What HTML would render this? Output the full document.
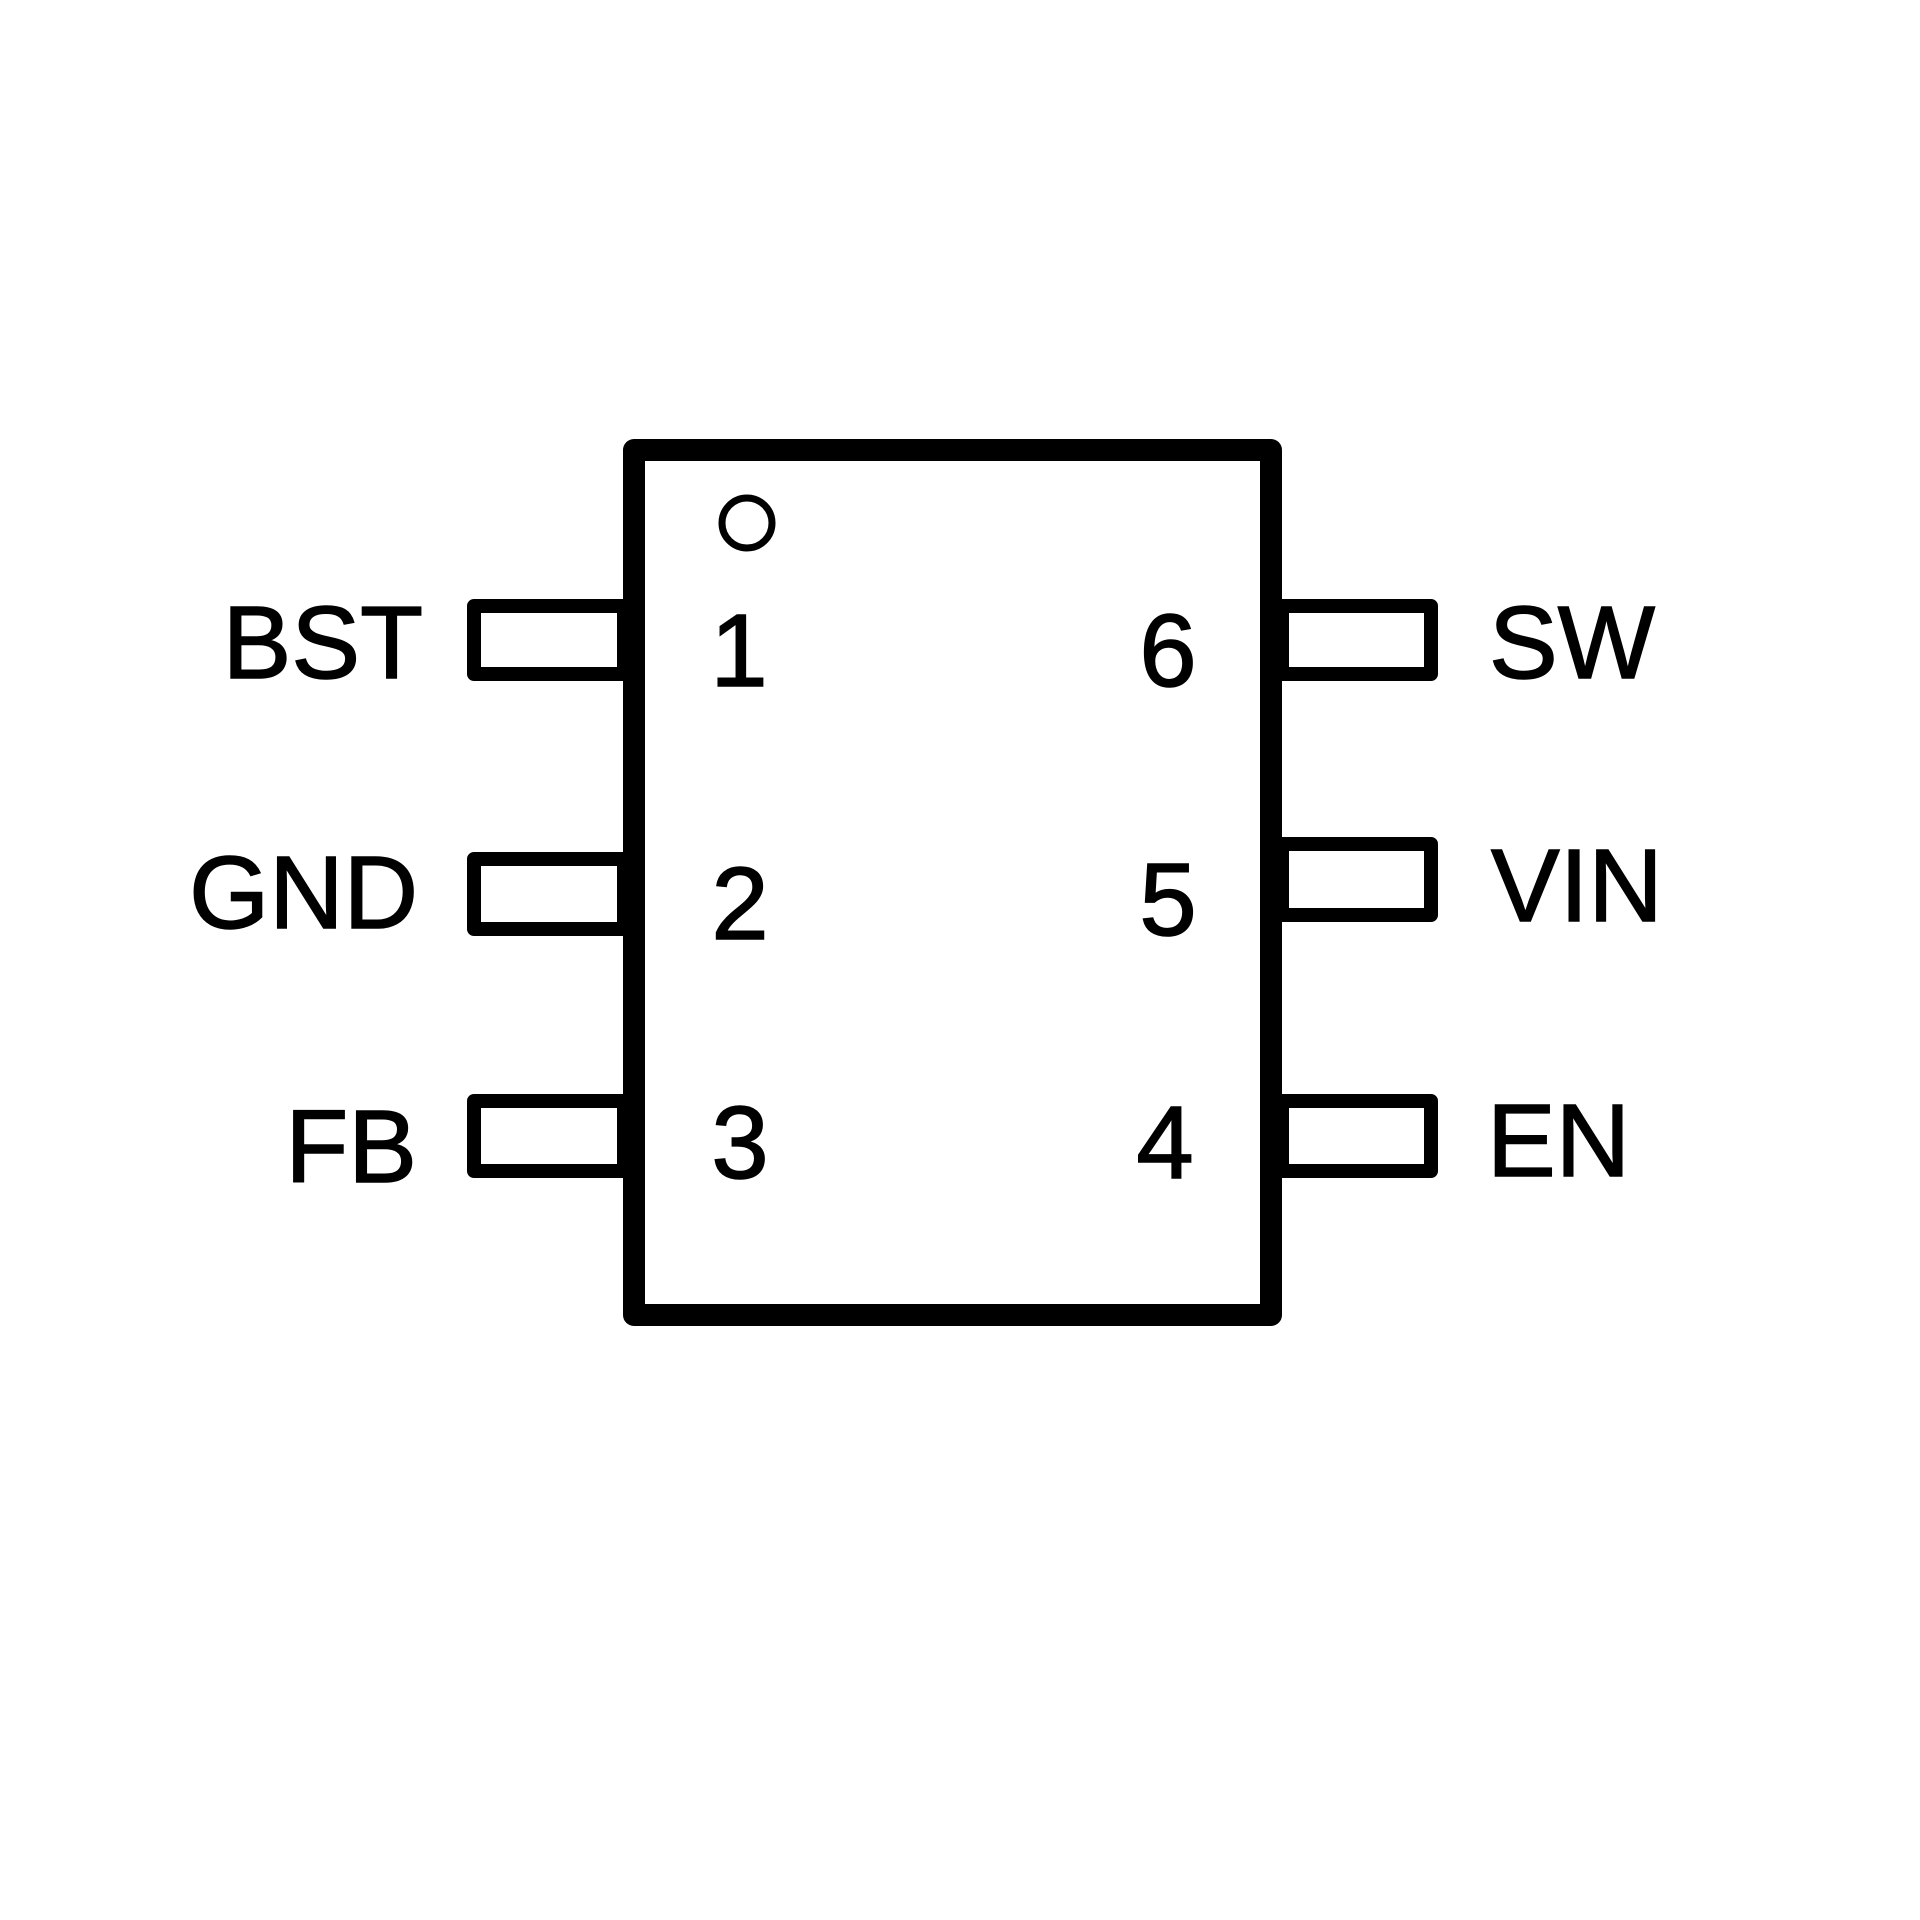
<!DOCTYPE html>
<html><head><style>html,body{margin:0;padding:0;background:#fff}</style></head>
<body>
<svg width="1920" height="1920" xmlns="http://www.w3.org/2000/svg" style="display:block">
<rect width="1920" height="1920" fill="#fff"/>
<g fill="none" stroke="#000" stroke-linejoin="round">
<rect x="634" y="450" width="637" height="865" stroke-width="22"/>
<g stroke-width="14">
<rect x="474" y="606" width="150" height="68"/>
<rect x="474" y="859" width="150" height="70"/>
<rect x="474" y="1101" width="150" height="70"/>
<rect x="1282" y="606" width="149" height="68"/>
<rect x="1282" y="844" width="149" height="71"/>
<rect x="1282" y="1101" width="149" height="70"/>
</g>
<circle cx="747" cy="523" r="25" stroke-width="7"/>
</g>
<g font-family="Liberation Sans, sans-serif" font-size="103" fill="#000" stroke="#000" stroke-width="1.5">
<text x="423" y="678" text-anchor="end">BST</text>
<text x="418" y="928" text-anchor="end">GND</text>
<text x="417" y="1182" text-anchor="end">FB</text>
<text x="1489" y="678">SW</text>
<text x="1491" y="921">VIN</text>
<text x="1487" y="1176">EN</text>
<g text-anchor="middle">
<text x="739" y="686">1</text>
<text x="740" y="939">2</text>
<text x="740" y="1178">3</text>
<text x="1168" y="686">6</text>
<text x="1168" y="935">5</text>
<text x="1165" y="1178">4</text>
</g>
</g>
</svg>
</body></html>
